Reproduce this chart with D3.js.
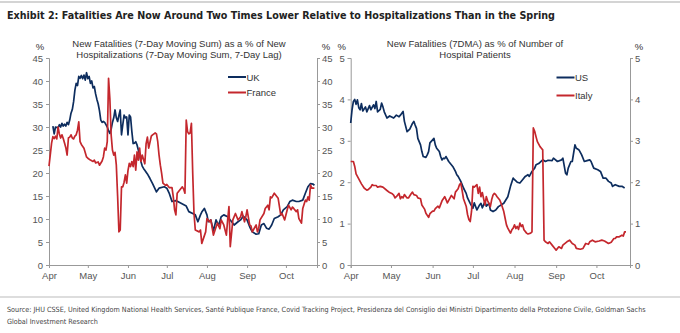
<!DOCTYPE html>
<html>
<head>
<meta charset="utf-8">
<script src="https://cdn.jsdelivr.net/npm/d3@7"></script>
<style>
  body { margin: 0; background: #fff; }
  svg { display: block; }
  .tick text { font-family: "Liberation Sans", Arial, sans-serif; font-size: 9.5px; fill: #555; }
  .lbl { font-family: "Liberation Sans", Arial, sans-serif; font-size: 9.5px; fill: #333; }
  .narrow { font-family: "Liberation Sans Narrow", "DejaVu Sans Condensed", "Arial Narrow", sans-serif; }
</style>
</head>
<body>
<script>
// days counted from 1 April 2020
const ukSeries = [
  [3,30.2],[4,28.5],[5,30],[7,29.8],[8,30.5],[9,30],[10,30.8],[11,30.2],[12,30.6],[13,30.2],
  [14,31],[15,30.5],[16,31.5],[17,33],[18,33.8],[19,35.5],[20,38],[21,39.5],[22,39],[23,41],
  [24,40.6],[25,41.2],[26,40.5],[27,41.3],[28,40.2],[29,41.8],[30,40.5],[31,41],[32,39.5],[33,40],
  [34,38.5],[35,38.8],[36,37.2],[37,36],[38,35],[39,33.5],[40,31.5],[41,31],[42,31.2],[43,31],
  [44,30.5],[45,30],[46,29.2],[47,28.6],[48,29.5],[49,31],[50,32],[51,33.7],[52,32],[53,31.2],
  [54,32.5],[55,33.7],[56,28.3],[57,30.5],[58,32.6],[59,32],[60,32.2],[61,28.3],[62,32.6],[63,32.2],
  [64,29],[65,26.4],[66,26.5],[67,26.8],[68,26.1],[69,25],[70,24],[71,22.5],[72,21.5],[73,21],
  [74,20.6],[76,19.8],[78,18.8],[80,17.7],[83,15.9],[85,16.7],[89,17],[91,16.7],[93,15.5],[95,13.8],
  [98,14],[102,13.4],[106,12.8],[108,11.6],[111,11.2],[113,10.9],[115,9.4],[117,10.9],[118,11.5],[120,12.3],
  [122,10.9],[123,9.4],[125,9.8],[127,7.4],[129,9.8],[131,8.6],[133,10.5],[135,10.9],[138,10.5],[140,9.8],
  [143,8.7],[146,9.4],[148,9.8],[150,10.6],[153,9.8],[155,8.3],[157,7.2],[160,6.7],[162,6.8],[164,8.7],
  [166,9],[168,8],[170,7.8],[172,8.7],[174,10.1],[177,10.5],[179,10.9],[181,12],[184,12.7],[186,13.8],
  [188,14.1],[191,13.8],[193,13.8],[196,14.1],[198,15.6],[200,17],[202,17.7],[204,17.6],[205,17.3]
];
const franceSeries = [
  [0,21.5],[1,24],[2,26.5],[3,27.9],[4,27.5],[5,28],[6,27.4],[7,30],[8,28.5],[9,27.6],
  [10,28.3],[11,27.5],[12,26.5],[13,25.5],[14,23.9],[15,27.6],[16,27.8],[17,28.3],[18,27.6],[19,27.4],
  [20,28],[21,28.3],[22,29.3],[23,31.1],[24,26.8],[25,26.2],[27,25.4],[29,23.5],[30,23.2],[32,22.8],
  [34,22.5],[35,22.8],[36,22.2],[38,22.4],[39,21.7],[41,22.6],[42,23.5],[43,25.4],[44,25],[45,26.8],
  [46,40.6],[47,36.2],[48,28.3],[49,25],[50,23.9],[51,24.5],[52,21.7],[53,15],[54,7.2],[55,7.6],
  [56,17],[57,17],[58,18],[59,19.6],[60,17.8],[61,20.5],[62,22.1],[63,21.4],[64,22.5],[65,21.4],
  [66,23.9],[67,20.6],[68,24.6],[69,22.8],[70,25.4],[71,22.5],[72,23.9],[74,22],[75,26.4],[76,27.8],
  [77,25.4],[79,28],[80,28.3],[82,28.7],[83,28.5],[84,26.8],[85,23.9],[86,21.7],[87,19.9],[88,17.8],
  [90,17.3],[91,17.5],[93,16.8],[95,16.8],[96,14.8],[97,12],[98,10.9],[99,15.6],[101,16.3],[103,17],
  [104,16.5],[105,15.6],[106,31.5],[107,29],[108,28.5],[109,28.7],[110,30.8],[111,20],[112,11.2],[113,7.6],
  [116,7.2],[117,7.6],[118,4.7],[121,7.2],[122,10.1],[124,9.4],[125,9.8],[127,6.5],[130,9.1],[132,7.9],
  [133,9.8],[135,8.7],[137,6.5],[138,9.8],[139,12.7],[140,4],[142,9.8],[144,11.2],[146,9.8],[148,10.5],
  [149,11.6],[151,9.4],[152,10.5],[153,12],[155,8.7],[156,8.5],[157,7.2],[159,8.2],[160,8.7],[161,7.2],
  [162,8],[163,9.8],[166,11.2],[167,12.3],[169,13],[170,12],[171,14.8],[172,14.6],[174,15.6],[177,14.5],
  [178,12.7],[179,10.9],[180,11.2],[182,9.8],[184,12],[185,13],[187,12],[188,12.6],[189,12.3],[191,11.6],
  [192,12],[193,10.1],[195,9.1],[196,12.3],[198,14.1],[199,13.8],[200,14.8],[201,14.1],[202,17.4],[203,16.7],
  [205,16.7]
];
const usSeries = [
  [0,3.43],[1,3.75],[2,3.95],[3,4.0],[4,3.88],[5,3.99],[6,3.8],[7,3.75],[8,3.9],[9,3.72],
  [11,3.82],[12,3.7],[14,3.85],[15,3.75],[17,3.87],[18,3.78],[19,3.95],[20,3.7],[22,3.76],[23,3.91],
  [24,3.82],[25,3.7],[27,3.55],[29,3.6],[32,3.55],[34,3.62],[36,3.58],[37,3.62],[39,3.71],[40,3.47],
  [42,3.22],[44,3.28],[46,3.42],[47,3.47],[48,3.38],[49,3.3],[50,3.06],[52,2.9],[53,2.74],[54,2.62],
  [56,2.6],[57,2.66],[58,2.74],[59,2.95],[62,3.06],[63,2.9],[64,2.82],[66,2.74],[67,2.62],[68,2.54],
  [69,2.58],[70,2.57],[71,2.62],[73,2.5],[76,2.38],[78,2.26],[79,2.18],[80,2.14],[82,2.02],[84,1.86],
  [86,1.73],[87,1.62],[89,1.49],[91,1.37],[92,1.5],[94,1.33],[96,1.45],[97,1.49],[98,1.38],[100,1.53],
  [101,1.42],[103,1.49],[104,1.33],[106,1.29],[108,1.33],[110,1.41],[112,1.45],[114,1.49],[117,1.65],[119,1.9],
  [121,2.1],[122,2.06],[124,2.0],[126,1.98],[128,2.06],[130,2.14],[132,2.18],[133,2.14],[135,2.26],[137,2.34],
  [138,2.42],[140,2.45],[143,2.54],[145,2.5],[147,2.53],[150,2.52],[151,2.58],[154,2.5],[157,2.54],[158,2.58],
  [160,2.22],[161,2.18],[162,2.34],[164,2.5],[165,2.5],[167,2.9],[168,2.82],[169,2.8],[170,2.78],[172,2.66],
  [174,2.5],[176,2.52],[178,2.54],[179,2.5],[180,2.42],[181,2.34],[184,2.3],[186,2.26],[188,2.1],[190,2.1],
  [192,2.02],[194,1.98],[195,1.9],[197,1.94],[200,1.9],[202,1.9],[204,1.86]
];
const italySeries = [
  [0,2.5],[2,2.5],[3,2.38],[4,2.2],[6,2.08],[8,1.96],[10,1.86],[12,1.81],[13,1.82],[15,1.88],
  [16,1.94],[17,1.92],[19,1.92],[20,1.88],[22,1.9],[24,1.88],[27,1.8],[29,1.75],[31,1.72],[32,1.69],
  [33,1.62],[34,1.65],[36,1.73],[37,1.6],[38,1.65],[39,1.62],[40,1.7],[42,1.62],[43,1.62],[45,1.72],
  [46,1.76],[47,1.7],[49,1.68],[50,1.62],[52,1.6],[53,1.45],[55,1.35],[56,1.25],[58,1.15],[59,1.24],
  [61,1.3],[62,1.3],[63,1.36],[65,1.42],[66,1.38],[68,1.55],[70,1.65],[71,1.58],[72,1.5],[74,1.62],
  [75,1.68],[77,1.6],[78,1.76],[80,1.84],[81,1.94],[82,1.98],[83,1.8],[84,1.6],[86,1.42],[87,1.22],
  [88,1.1],[89,1.05],[90,1.3],[91,1.9],[92,1.88],[94,1.94],[95,1.73],[96,1.88],[97,1.65],[98,1.75],
  [100,1.45],[101,1.65],[102,1.55],[104,1.41],[105,1.58],[106,1.69],[107,1.73],[108,1.7],[109,1.65],[111,1.57],
  [112,1.49],[114,1.29],[115,1.13],[116,0.97],[117,0.89],[119,0.77],[120,0.85],[121,0.89],[122,0.97],[123,0.88],
  [124,0.93],[125,0.86],[126,1.01],[127,0.93],[128,0.97],[129,0.85],[131,0.77],[132,0.75],[134,0.77],[135,0.8],
  [136,3.31],[137,3.23],[138,3.1],[139,2.98],[141,2.86],[142,2.82],[143,2.78],[144,0.6],[145,0.56],[147,0.52],
  [148,0.56],[150,0.48],[152,0.4],[153,0.36],[155,0.44],[157,0.4],[158,0.48],[161,0.56],[163,0.6],[165,0.52],
  [167,0.48],[168,0.4],[171,0.38],[173,0.4],[175,0.52],[177,0.5],[178,0.56],[180,0.6],[182,0.56],[185,0.58],
  [187,0.6],[189,0.58],[192,0.52],[194,0.55],[196,0.64],[197,0.64],[198,0.68],[200,0.68],[202,0.72],[203,0.7],
  [204,0.8],[205,0.8]
];
const leftTicks = [0, 5, 10, 15, 20, 25, 30, 35, 40, 45];
const rightTicks = [0, 1, 2, 3, 4, 5];
const leftTitle = ["New Fatalities (7-Day Moving Sum) as a % of New", "Hospitalizations (7-Day Moving Sum, 7-Day Lag)"];
const rightTitle = ["New Fatalities (7DMA) as % of Number of", "Hospital Patients"];
const leftLegend = ["UK", "France"];
const rightLegend = ["US", "Italy"];
const titleText = "Exhibit 2: Fatalities Are Now Around Two Times Lower Relative to Hospitalizations Than in the Spring";
const sourceLines = [
  "Source: JHU CSSE, United Kingdom National Health Services, Santé Publique France, Covid Tracking Project, Presidenza del Consiglio dei Ministri Dipartimento della Protezione Civile, Goldman Sachs",
  "Global Investment Research"
];

const W = 680, H = 333;
const BLUE = "#0d2d5e", RED = "#c4272d";
const start = new Date(2020, 3, 1);
const day = d => d3.timeDay.offset(start, d);

const svg = d3.select("body").append("svg").attr("width", W).attr("height", H);

svg.append("line").attr("x1", 0).attr("x2", W).attr("y1", 2).attr("y2", 2)
  .attr("stroke", "#aaa").attr("stroke-width", 1.2);
svg.append("line").attr("x1", 0).attr("x2", W).attr("y1", 297).attr("y2", 297)
  .attr("stroke", "#bbb").attr("stroke-width", 1);

// shrink a text's font until it spans the wanted width
function fitWidth(sel, width, size) {
  sel.attr("font-size", size);
  const w = sel.node().getComputedTextLength();
  if (w > 0) sel.attr("font-size", size * width / w);
}

const title = svg.append("text").attr("class", "narrow").attr("x", 7).attr("y", 19)
  .attr("font-weight", "bold").attr("fill", "#222").text(titleText);
fitWidth(title, 549, 12.5);

const src = svg.append("text").attr("class", "narrow").attr("x", 7).attr("y", 312)
  .attr("fill", "#444").text(sourceLines[0]);
fitWidth(src, 640, 8.5);
svg.append("text").attr("class", "narrow").attr("x", 7).attr("y", 324)
  .attr("fill", "#444").attr("font-size", src.attr("font-size")).text(sourceLines[1]);

function panel(cfg) {
  const x = d3.scaleTime().domain([start, day(cfg.endDay)]).range([cfg.x0, cfg.x1]);
  const y = d3.scaleLinear().domain([0, cfg.max]).range([265, 58]);
  const g = svg.append("g");
  const fmt = d3.format("d");

  const yl = g.append("g").attr("transform", `translate(${cfg.x0},0)`)
    .call(d3.axisLeft(y).tickValues(cfg.ticks).tickFormat(fmt).tickSize(3).tickPadding(3));
  const yr = g.append("g").attr("transform", `translate(${cfg.x1},0)`)
    .call(d3.axisRight(y).tickValues(cfg.ticks).tickFormat(fmt).tickSize(3).tickPadding(2));
  const xa = g.append("g").attr("transform", "translate(0,265)")
    .call(d3.axisBottom(x).ticks(d3.timeMonth.every(1)).tickFormat(d3.timeFormat("%b"))
      .tickSize(3).tickPadding(4));
  xa.selectAll(".tick").filter(d => d > day(cfg.endDay - 10)).remove();
  [yl, yr, xa].forEach(a => {
    a.select(".domain").attr("stroke", "#999");
    a.selectAll(".tick line").attr("stroke", "#999");
  });

  g.append("text").attr("class", "lbl").attr("x", cfg.x0 - 9).attr("y", 50)
    .attr("text-anchor", "middle").text("%");
  g.append("text").attr("class", "lbl").attr("x", cfg.x1 + 9).attr("y", 50)
    .attr("text-anchor", "middle").text("%");

  cfg.title.forEach((t, i) => {
    g.append("text").attr("class", "lbl").attr("x", cfg.titleX).attr("y", 47 + i * 10.5)
      .attr("text-anchor", "middle").text(t);
  });

  const line = d3.line().x(d => x(day(d[0]))).y(d => y(d[1]));
  cfg.series.forEach((s, i) => {
    g.append("path").datum(s).attr("fill", "none").attr("stroke", cfg.colors[i])
      .attr("stroke-width", 1.7).attr("stroke-linejoin", "round").attr("d", line);
  });

  cfg.legend.forEach((name, i) => {
    const ly = cfg.legendY[i];
    g.append("line").attr("x1", cfg.legendX).attr("x2", cfg.legendX + 18)
      .attr("y1", ly).attr("y2", ly).attr("stroke", cfg.colors[i]).attr("stroke-width", 2);
    g.append("text").attr("class", "lbl").attr("x", cfg.legendX + 18.5).attr("y", ly + 3.5).text(name);
  });
}

panel({
  x0: 49, x1: 317, endDay: 207, max: 45, ticks: leftTicks,
  series: [ukSeries, franceSeries], colors: [BLUE, RED],
  title: leftTitle, titleX: 179,
  legend: leftLegend, legendX: 228, legendY: [77, 92.5]
});

panel({
  x0: 350.7, x1: 630, endDay: 208, max: 5, ticks: rightTicks,
  series: [usSeries, italySeries], colors: [BLUE, RED],
  title: rightTitle, titleX: 475,
  legend: rightLegend, legendX: 556.5, legendY: [77.5, 95.5]
});
</script>
</body>
</html>
